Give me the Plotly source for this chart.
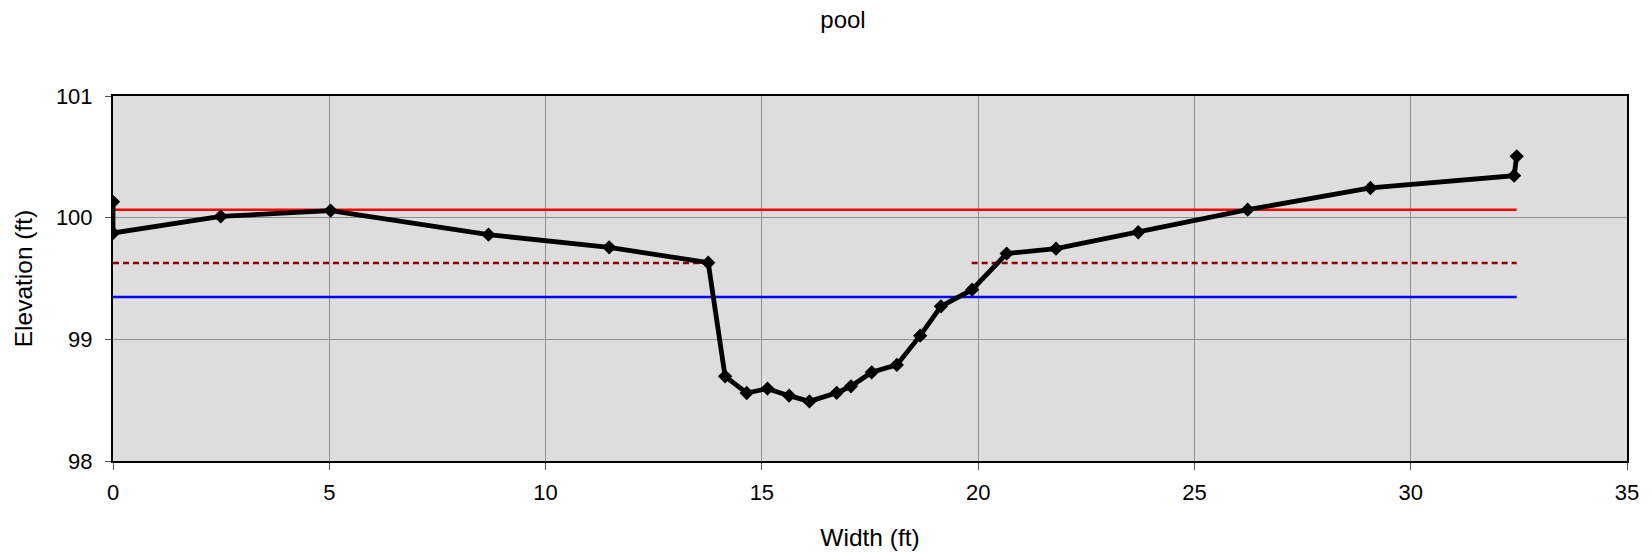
import plotly.graph_objects as go

# Cross-section profile (station ft, elevation ft)
station = [0.0, 0.0, 2.49, 5.03, 8.68, 11.47, 13.76, 14.15, 14.65, 15.13, 15.63,
           16.10, 16.73, 17.06, 17.54, 18.12, 18.66, 19.14, 19.86, 20.66, 21.80,
           23.70, 26.23, 29.07, 32.39, 32.45]
elevation = [100.13, 99.874, 100.01, 100.058, 99.86, 99.756, 99.63, 98.696, 98.559,
             98.595, 98.537, 98.49, 98.56, 98.614, 98.729, 98.79, 99.03, 99.271,
             99.408, 99.705, 99.745, 99.88, 100.066, 100.244, 100.345, 100.504]

# Reference levels
bankfull_x = [0.0, 32.45]
bankfull_y = [100.066, 100.066]
water_x = [0.0, 32.45]
water_y = [99.348, 99.348]
pool_left_x = [0.0, 13.76]
pool_right_x = [19.85, 32.45]
pool_level = 99.627

x_ticks = [0, 5, 10, 15, 20, 25, 30, 35]
y_ticks = [98, 99, 100, 101]

FONT = "Liberation Sans, Arial, sans-serif"

fig = go.Figure()
fig.add_trace(go.Scatter(x=bankfull_x, y=bankfull_y, mode="lines",
                         line=dict(color="#FF0000", width=2.5), showlegend=False))
fig.add_trace(go.Scatter(x=water_x, y=water_y, mode="lines",
                         line=dict(color="#0000FF", width=2.5), showlegend=False))
fig.add_trace(go.Scatter(x=pool_left_x, y=[pool_level] * len(pool_left_x), mode="lines",
                         line=dict(color="#8B0000", width=2.5, dash="6px,4px"), showlegend=False))
fig.add_trace(go.Scatter(x=pool_right_x, y=[pool_level] * len(pool_right_x), mode="lines",
                         line=dict(color="#8B0000", width=2.5, dash="6px,4px"), showlegend=False))
fig.add_trace(go.Scatter(x=station, y=elevation, mode="lines+markers",
                         line=dict(color="black", width=4.8),
                         marker=dict(symbol="diamond", size=11, color="black"),
                         showlegend=False))

fig.update_layout(
    width=1652, height=552,
    margin=dict(l=113, r=25, t=96, b=91, autoexpand=False),
    paper_bgcolor="white",
    plot_bgcolor="#DDDDDD",
    font=dict(family=FONT, size=22, color="black"),
    title=dict(text="pool", x=843 / 1652, xanchor="center", xref="container",
               y=1 - 20 / 552, yanchor="middle", yref="container",
               font=dict(family=FONT, size=24, color="black")),
    xaxis=dict(range=[0, 35], tickvals=x_ticks, ticktext=[str(v) for v in x_ticks],
               showgrid=True, gridcolor="#8F8F8F", gridwidth=1,
               showline=True, linecolor="black", linewidth=2, mirror=True,
               ticks="outside", ticklen=7, tickcolor="#555555", tickwidth=1,
               zeroline=False, ticklabelstandoff=4,
               title=dict(text="Width (ft)", font=dict(size=24.5), standoff=24),
               tickfont=dict(size=22)),
    yaxis=dict(range=[98, 101], tickvals=y_ticks, ticktext=[str(v) for v in y_ticks],
               showgrid=True, gridcolor="#8F8F8F", gridwidth=1,
               showline=True, linecolor="black", linewidth=2, mirror=True,
               ticks="outside", ticklen=6, tickcolor="#555555", tickwidth=1,
               zeroline=False, ticklabelstandoff=8,
               title=dict(text="Elevation (ft)", font=dict(size=24.5), standoff=16),
               tickfont=dict(size=22)),
)

fig.write_html("out.html", config={"displayModeBar": False},
               post_script="document.body.style.margin='0px';document.body.style.padding='0px';")
